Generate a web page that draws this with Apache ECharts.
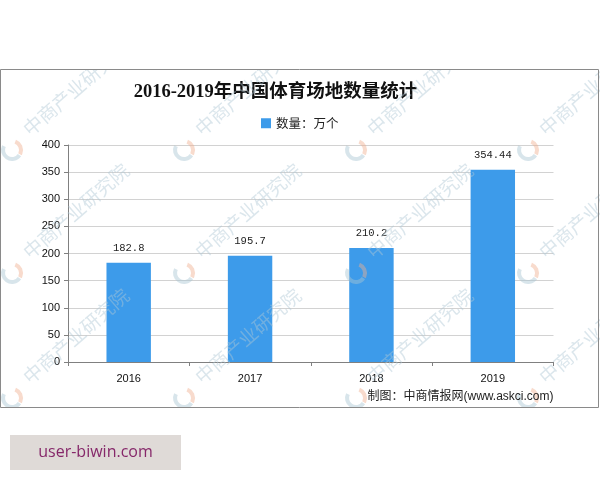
<!DOCTYPE html>
<html>

<head>
    <meta charset="utf-8" />
    <title>2016-2019年中国体育场地数量统计</title>
    <script src="https://cdn.jsdelivr.net/npm/echarts@6/dist/echarts.min.js"></script>
    <style>
        html, body { margin: 0; padding: 0; background: #fff; }
        #main { width: 600px; height: 480px; }
    </style>
</head>

<body>
    <div id="main"></div>

    <script type="text/javascript">
        var categories = ['2016', '2017', '2018', '2019'];
        var seriesName = '数量：万个';
        var values = [182.8, 195.7, 210.2, 354.44];
        var yTicks = { min: 0, max: 400, interval: 50 };

        var chartTitle = '2016-2019年中国体育场地数量统计';
        var sourceText = '制图：中商情报网(www.askci.com)';
        var badgeText = 'user-biwin.com';
        var watermarkText = '中商产业研究院';

        // watermark logo positions
        var markX = [12, 184, 356, 528];
        var markY = [150, 273, 398];

        var CJK = '"Noto Sans CJK SC"';
        var graphic = [];

        // watermarks
        markX.forEach(function (x) {
            markY.forEach(function (y) {
                graphic.push({
                    type: 'text', z: 20, silent: true,
                    x: x + 64, y: y - 62, rotation: Math.PI * 41 / 180,
                    style: {
                        text: watermarkText, fill: '#b0c8d4', opacity: 0.45,
                        font: '19px ' + CJK, align: 'center', verticalAlign: 'middle'
                    }
                });
                graphic.push({
                    type: 'arc', z: 20, silent: true,
                    shape: { cx: x, cy: y, r: 9, startAngle: 0.6, endAngle: 3.6 },
                    style: { fill: null, stroke: '#a9c6d2', lineWidth: 4, opacity: 0.45 }
                });
                graphic.push({
                    type: 'arc', z: 20, silent: true,
                    shape: { cx: x, cy: y, r: 9, startAngle: -1.2, endAngle: 0.5 },
                    style: { fill: null, stroke: '#f0b090', lineWidth: 4, opacity: 0.45 }
                });
            });
        });

        // hide the watermark outside the frame
        graphic.push({
            type: 'rect', z: 30, silent: true,
            shape: { x: 0, y: 0, width: 600, height: 69 },
            style: { fill: '#fff' }
        });
        graphic.push({
            type: 'rect', z: 30, silent: true,
            shape: { x: 0, y: 408, width: 600, height: 72 },
            style: { fill: '#fff' }
        });
        // chart frame
        graphic.push({
            type: 'rect', z: 31, silent: true,
            shape: { x: 0.5, y: 69.5, width: 598, height: 338 },
            style: { fill: null, stroke: '#8a8a8a', lineWidth: 1 }
        });

        // source line
        graphic.push({
            type: 'text', z: 32, silent: true,
            x: 553.5, y: 397,
            style: {
                text: sourceText, fill: '#222',
                font: '12px "Liberation Sans",' + CJK, align: 'right', verticalAlign: 'middle'
            }
        });

        // badge under the chart
        graphic.push({
            type: 'rect', z: 32, silent: true,
            shape: { x: 10, y: 435, width: 171, height: 35 },
            style: { fill: '#dfdad7' }
        });
        graphic.push({
            type: 'text', z: 33, silent: true,
            x: 95.5, y: 452.5,
            style: {
                text: badgeText, fill: '#86286a',
                font: '16px "Open Sans"', align: 'center', verticalAlign: 'middle'
            }
        });

        var chart = echarts.init(document.getElementById('main'));
        var option = {
            animation: false,
            backgroundColor: '#fff',
            title: {
                text: chartTitle,
                left: 270.5, top: 78, textAlign: 'center',
                textStyle: {
                    fontFamily: '"Liberation Serif",' + CJK,
                    fontSize: 18.5, fontWeight: 'bold', color: '#111'
                }
            },
            legend: {
                data: [seriesName],
                left: 256, top: 112,
                icon: 'rect',
                itemWidth: 10, itemHeight: 10, itemGap: 4,
                textStyle: { fontFamily: CJK, fontSize: 12.5, color: '#222' }
            },
            grid: { left: 68, right: 46.5, top: 145, bottom: 118, containLabel: false },
            xAxis: {
                type: 'category',
                data: categories,
                axisTick: { show: true, alignWithLabel: false, length: 4, lineStyle: { color: '#808080' } },
                axisLine: { lineStyle: { color: '#808080', width: 1 } },
                axisLabel: { color: '#111', fontFamily: '"Liberation Sans"', fontSize: 11, margin: 11 }
            },
            yAxis: {
                type: 'value',
                min: yTicks.min, max: yTicks.max, interval: yTicks.interval,
                axisLine: { show: true, lineStyle: { color: '#808080', width: 1 } },
                axisTick: { show: true, length: 4, lineStyle: { color: '#808080' } },
                axisLabel: { color: '#111', fontFamily: '"Liberation Sans"', fontSize: 11, margin: 8 },
                splitLine: { lineStyle: { color: '#d2d2d2', width: 1 } }
            },
            series: [{
                name: seriesName,
                type: 'bar',
                data: values,
                barWidth: '36.6%',
                z: 5,
                itemStyle: { color: '#3d9bea' },
                label: {
                    show: true, position: 'top', distance: 9,
                    fontFamily: '"Liberation Mono"', fontSize: 10.5, color: '#222'
                }
            }],
            graphic: graphic
        };
        chart.setOption(option);
    </script>

</body>

</html>
